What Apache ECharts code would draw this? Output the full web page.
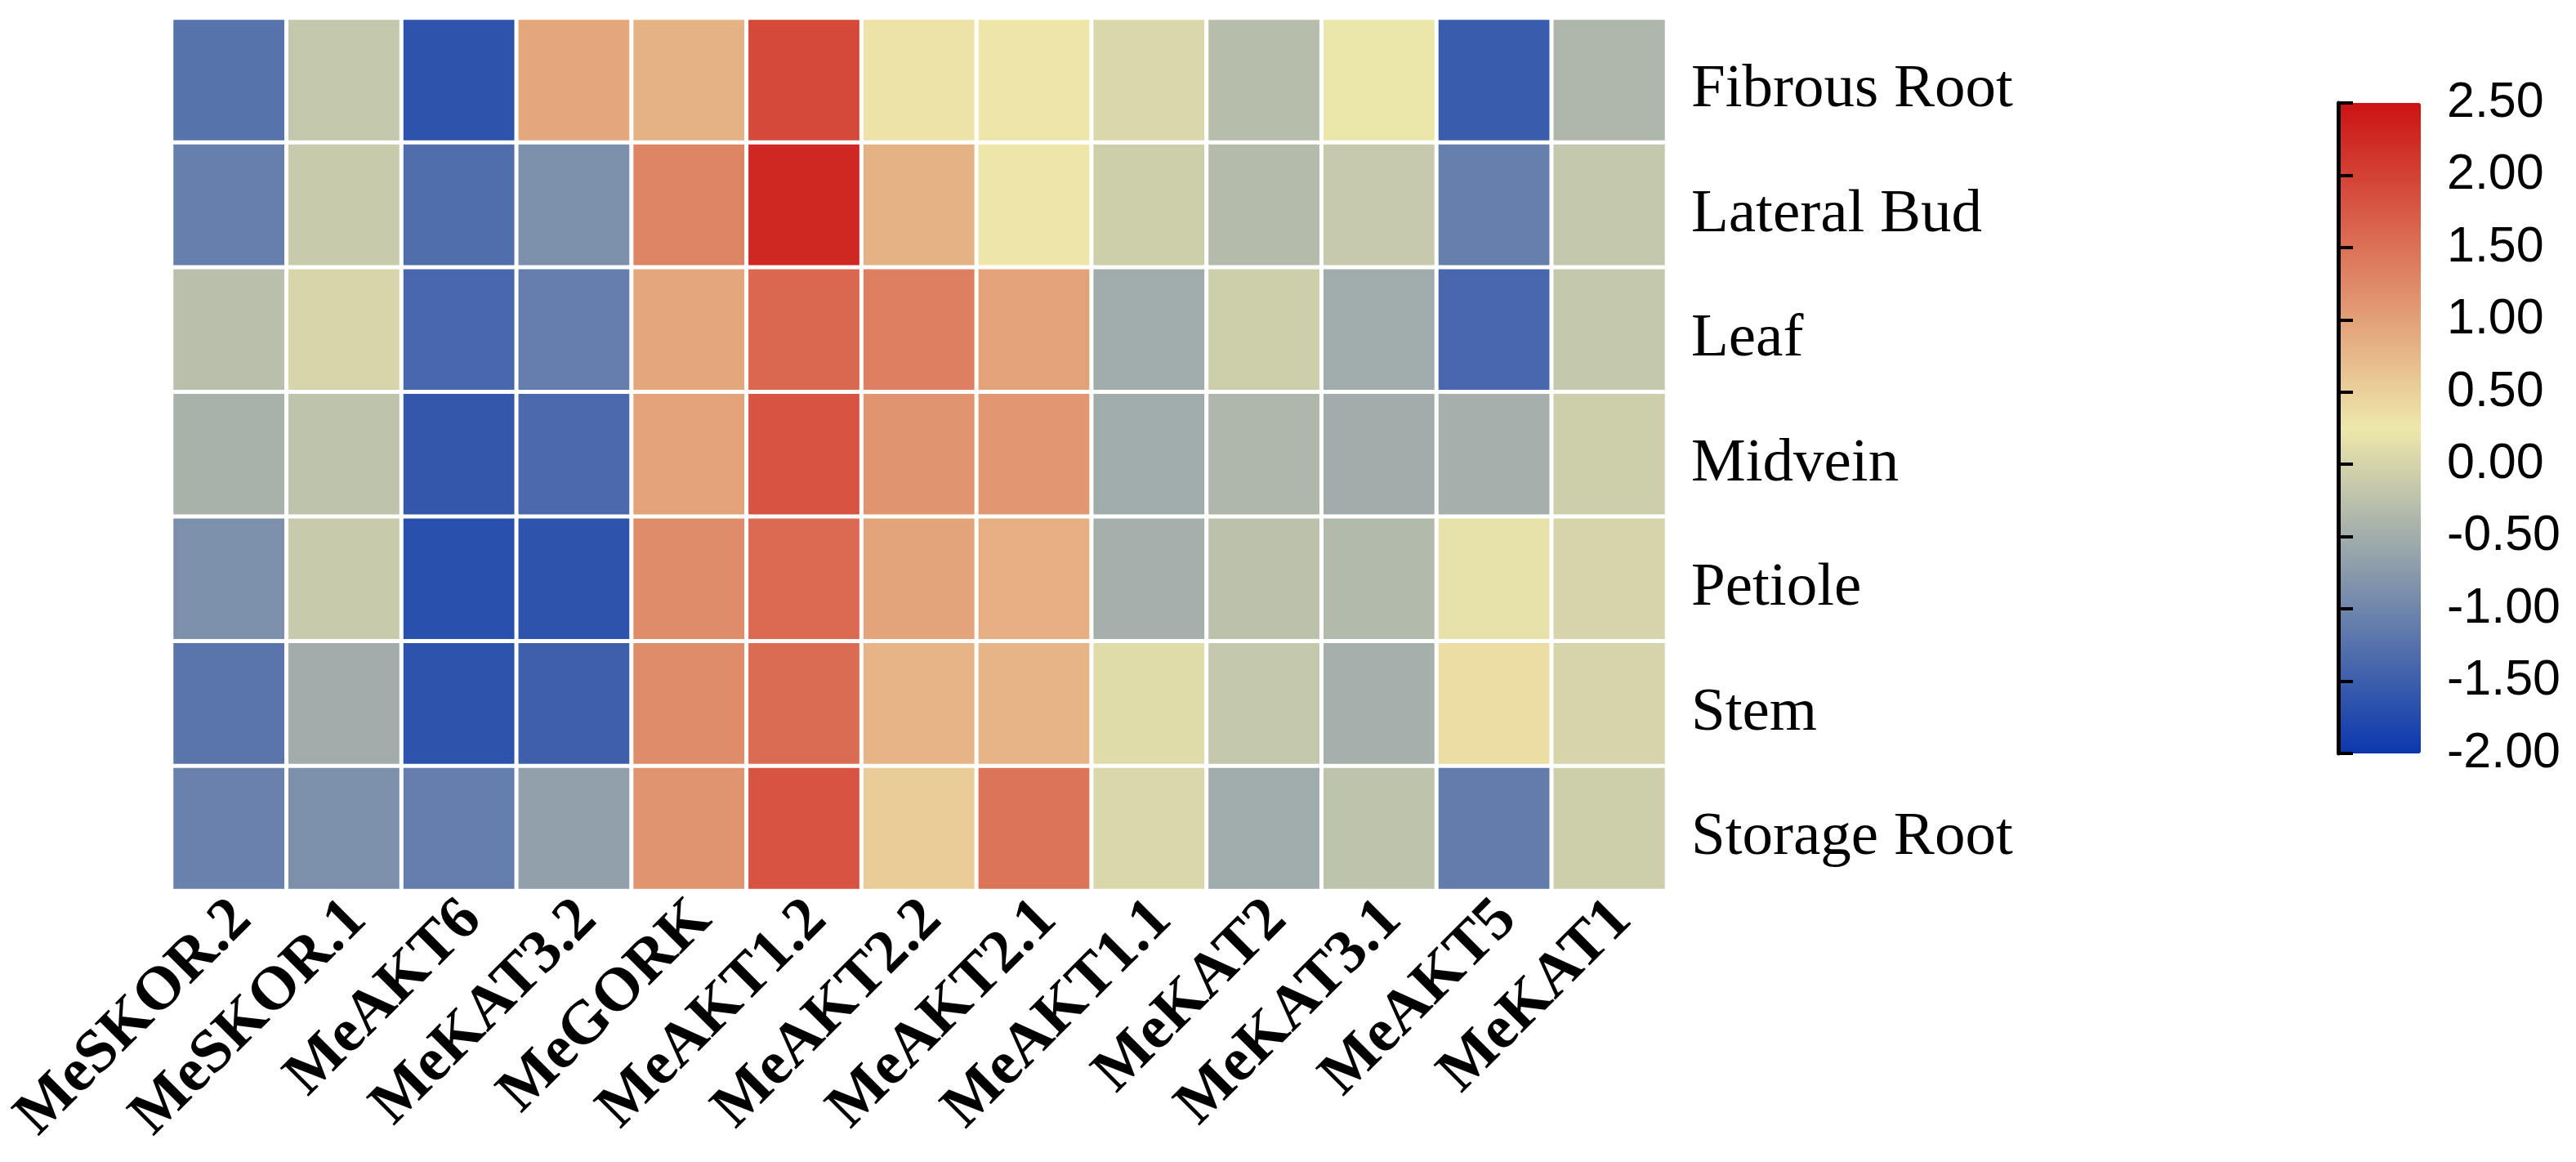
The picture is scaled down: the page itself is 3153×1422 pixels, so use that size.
<!DOCTYPE html>
<html>
<head>
<meta charset="utf-8">
<script src="https://cdn.jsdelivr.net/npm/echarts@6/dist/echarts.min.js"></script>
<style>
  html, body { margin: 0; padding: 0; background: #fff; }
  #chart { width: 3153px; height: 1422px; }
</style>
</head>
<body>
<div id="chart"></div>
<script>
const tissues = ['Fibrous Root', 'Lateral Bud', 'Leaf', 'Midvein', 'Petiole', 'Stem', 'Storage Root'];
const genes = ['MeSKOR.2', 'MeSKOR.1', 'MeAKT6', 'MeKAT3.2', 'MeGORK', 'MeAKT1.2', 'MeAKT2.2', 'MeAKT2.1', 'MeAKT1.1', 'MeKAT2', 'MeKAT3.1', 'MeAKT5', 'MeKAT1'];

const fibrousRoot = [-1.24, -0.17, -1.65, 0.93, 0.82, 1.92, 0.30, 0.27, 0.05, -0.30, 0.22, -1.53, -0.37];
const lateralBud  = [-1.09, -0.13, -1.31, -0.87, 1.28, 2.27, 0.82, 0.27, -0.08, -0.32, -0.14, -1.09, -0.17];
const leaf        = [-0.27, 0.02, -1.39, -1.11, 0.93, 1.60, 1.35, 0.99, -0.52, -0.08, -0.52, -1.39, -0.17];
const midvein     = [-0.44, -0.22, -1.59, -1.36, 0.99, 1.81, 1.12, 1.10, -0.52, -0.37, -0.50, -0.47, -0.08];
const petiole     = [-0.87, -0.13, -1.68, -1.65, 1.22, 1.57, 0.96, 0.85, -0.47, -0.24, -0.34, 0.17, 0.00];
const stem        = [-1.21, -0.50, -1.65, -1.49, 1.22, 1.55, 0.80, 0.80, 0.10, -0.17, -0.47, 0.36, 0.00];
const storageRoot = [-1.06, -0.87, -1.11, -0.67, 1.12, 1.81, 0.54, 1.46, 0.05, -0.52, -0.22, -1.12, -0.08];

const rowValues = [fibrousRoot, lateralBud, leaf, midvein, petiole, stem, storageRoot];
const scaleMin = -2.0;
const scaleMax = 2.5;
const scaleInterval = 0.5;
const scaleColors = ['#0a37ad', '#eee8aa', '#cc1212'];

const data = [];
rowValues.forEach((row, r) => {
  row.forEach((v, c) => data.push([c, r, v]));
});

const serifFont = 'Liberation Serif, "Times New Roman", serif';
const gridBase = { containLabel: false, outerBoundsMode: 'none' };

const chart = echarts.init(document.getElementById('chart'));
chart.setOption({
  animation: false,
  backgroundColor: '#ffffff',
  grid: [
    Object.assign({ left: 210, right: 1113, top: 22, bottom: 332 }, gridBase),
    Object.assign({ left: 2862, top: 126, width: 104, height: 796 }, gridBase),
    Object.assign({ left: 214, right: 1109, top: 34, bottom: 320 }, gridBase),
    Object.assign({ left: 226, right: 1097, top: 22, bottom: 332 }, gridBase)
  ],
  xAxis: [
    { type: 'category', gridIndex: 0, data: genes, show: false },
    { type: 'value', gridIndex: 1, show: false, min: 0, max: 1 },
    { type: 'value', gridIndex: 2, show: false, min: 0, max: 1 },
    {
      type: 'category', gridIndex: 3, data: genes,
      axisLine: { show: false }, axisTick: { show: false }, splitArea: { show: false },
      splitLine: { show: false },
      axisLabel: {
        interval: 0, rotate: 45, margin: 24,
        fontFamily: serifFont,
        fontWeight: 'bold', fontSize: 75, color: '#000'
      }
    }
  ],
  yAxis: [
    { type: 'category', gridIndex: 0, data: tissues, inverse: true, show: false },
    {
      type: 'value', gridIndex: 1, position: 'right', z: 10,
      min: scaleMin, max: scaleMax, interval: scaleInterval,
      splitLine: { show: false },
      axisLine: { show: true, lineStyle: { color: '#000', width: 5 } },
      axisTick: { show: true, length: 18, lineStyle: { color: '#000', width: 4 } },
      axisLabel: {
        margin: 29, fontSize: 61, color: '#000',
        fontFamily: 'Liberation Sans, Arial, sans-serif',
        formatter: v => v.toFixed(2)
      }
    },
    {
      type: 'category', gridIndex: 2, data: tissues, inverse: true, position: 'right',
      axisLine: { show: false }, axisTick: { show: false }, splitArea: { show: false },
      splitLine: { show: false },
      axisLabel: {
        margin: 26,
        fontFamily: serifFont,
        fontSize: 75, color: '#000'
      }
    },
    { type: 'value', gridIndex: 3, show: false, min: 0, max: 1 }
  ],
  visualMap: {
    type: 'continuous',
    min: scaleMin, max: scaleMax,
    seriesIndex: 0,
    calculable: false,
    hoverLink: false,
    orient: 'vertical',
    left: 2862, top: 126,
    itemWidth: 101, itemHeight: 796,
    padding: 0,
    text: ['', ''],
    textStyle: { color: 'rgba(0,0,0,0)' },
    inRange: { color: scaleColors }
  },
  series: [{
    type: 'heatmap',
    xAxisIndex: 0, yAxisIndex: 0,
    data: data,
    itemStyle: { borderColor: '#ffffff', borderWidth: 5 },
    emphasis: { disabled: true }
  }]
});
</script>
</body>
</html>
